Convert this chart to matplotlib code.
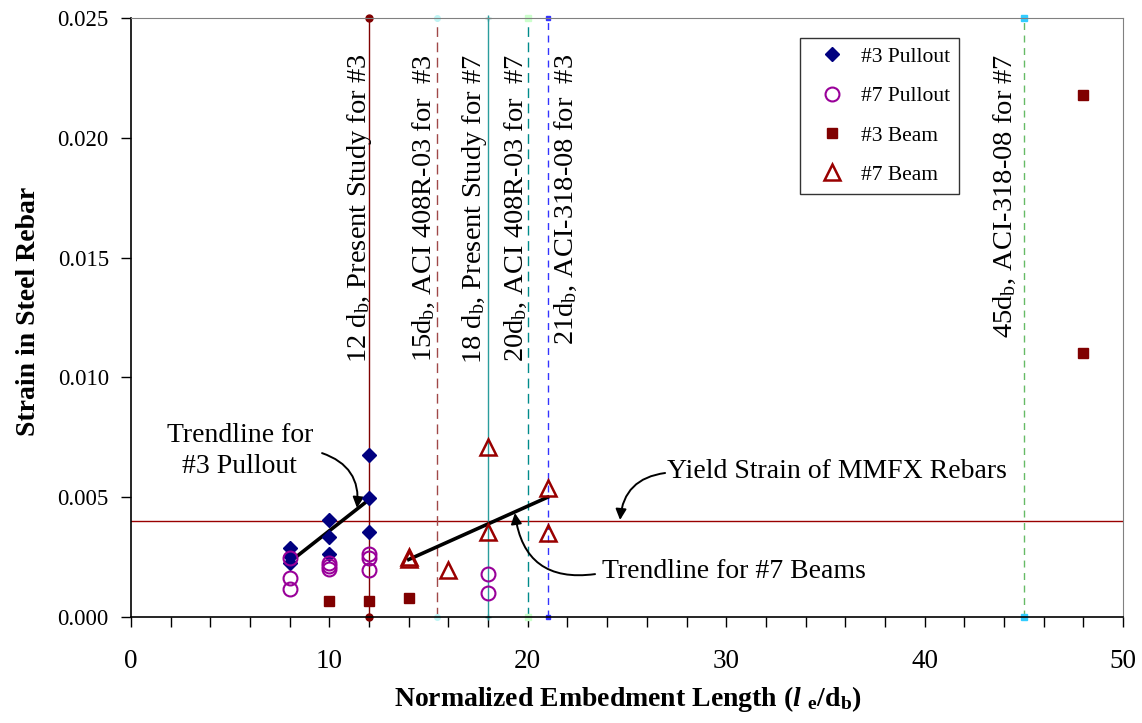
import matplotlib
matplotlib.use("Agg")
import matplotlib.pyplot as plt
from matplotlib.ticker import MultipleLocator, FormatStrFormatter

plt.rcParams['font.family'] = ['Liberation Serif', 'DejaVu Serif']
plt.rcParams['mathtext.fontset'] = 'custom'
plt.rcParams['mathtext.rm'] = 'Liberation Serif'
plt.rcParams['mathtext.it'] = 'Liberation Serif:italic'
plt.rcParams['mathtext.bf'] = 'Liberation Serif:bold'
plt.rcParams['mathtext.bfit'] = 'Liberation Serif:italic:bold'

# -----------------------------
# Data
# -----------------------------
p3_x = [8, 8, 8, 10, 10, 10, 12, 12, 12]
p3_y = [0.00288, 0.00255, 0.00225, 0.00405, 0.00334, 0.00263, 0.00676, 0.00497, 0.00355]

p7_x = [8, 8, 8, 10, 10, 10, 12, 12, 12, 18, 18]
p7_y = [0.00246, 0.00163, 0.00117, 0.00225, 0.00212, 0.00200, 0.00263, 0.00246, 0.00196, 0.00179, 0.00100]

b3_x = [10, 12, 14, 48, 48]
b3_y = [0.00068, 0.00066, 0.00080, 0.02180, 0.01100]

b7_x = [14, 14, 16, 18, 18, 21, 21]
b7_y = [0.00250, 0.00240, 0.00196, 0.00710, 0.00355, 0.00540, 0.00350]

trend3_x = [8, 12]
trend3_y = [0.0023, 0.0049]
trend7_x = [14, 21]
trend7_y = [0.0024, 0.0050]

yield_strain = 0.004

dev_x = [12, 15.4, 18, 20, 21, 45]
dev_labels = [
    r"12 d$_\mathregular{b}$, Present Study for #3",
    r"15d$_\mathregular{b}$, ACI 408R-03 for  #3",
    r"18 d$_\mathregular{b}$, Present Study for #7",
    r"20d$_\mathregular{b}$, ACI 408R-03 for  #7",
    r"21d$_\mathregular{b}$, ACI-318-08 for  #3",
    r"45d$_\mathregular{b}$, ACI-318-08 for #7",
]
dev_label_x = [11.5, 14.77, 17.3, 19.4, 21.9, 44.05]

# line styles for the development length lines
dev_styles = [
    dict(color='#800000', ls='-', marker='o', ms=5, mfc='#800000', mec='#800000'),
    dict(color='#A04848', ls=(0, (7, 4)), marker='o', ms=4, mfc='#bff5f5', mec='#bff5f5'),
    dict(color='#2A9D9D', ls='-', marker='+', ms=5, mfc='#2A9D9D', mec='#2A9D9D'),
    dict(color='#008B8B', ls=(0, (7, 4)), marker='s', ms=5, mfc='#ccffcc', mec='#ccffcc'),
    dict(color='#3333ff', ls=(0, (5, 4)), marker='s', ms=3, mfc='#3333ff', mec='#3333ff'),
    dict(color='#66bb66', ls=(0, (5, 4)), marker='s', ms=4, mfc='#33ccff', mec='#33ccff'),
]

# -----------------------------
# Figure
# -----------------------------
fig = plt.figure(figsize=(11.42, 7.23), dpi=100)
ax = fig.add_axes([131 / 1142, 1 - 617 / 723, 992 / 1142, 599 / 723])

ax.axhline(yield_strain, color='#990000', lw=1, zorder=1)

for x, st in zip(dev_x, dev_styles):
    ax.plot([x, x], [0, 0.025], lw=1, clip_on=False, zorder=2, **st)

for x, lab in zip(dev_label_x, dev_labels):
    ax.text(x, 0.0235, lab, rotation=90, ha='center', va='top', fontsize=20.5)

ax.plot(trend3_x, trend3_y, color='black', lw=2.6, zorder=3)
ax.plot(trend7_x, trend7_y, color='black', lw=2.6, zorder=3)

ax.plot(p3_x, p3_y, ls='none', marker='D', ms=7, color='#000080', label='#3 Pullout', zorder=4)
ax.plot(p7_x, p7_y, ls='none', marker='o', ms=10, mfc='none', mec='#990099', mew=1.5,
        label='#7 Pullout', zorder=4)
ax.plot(b3_x, b3_y, ls='none', marker='s', ms=7, color='#800000', label='#3 Beam', zorder=4)
ax.plot(b7_x, b7_y, ls='none', marker='^', ms=11, mfc='none', mec='#990000', mew=1.8,
        label='#7 Beam', zorder=4)

# annotations
arrow = dict(arrowstyle='-|>', color='black', lw=1.4, mutation_scale=16, shrinkA=0, shrinkB=0)
ax.text(5.49, 0.00693, "Trendline for\n#3 Pullout", ha='center', va='center', fontsize=20,
        linespacing=1.35)
ax.annotate('', xy=(11.39, 0.00455), xytext=(9.63, 0.00684),
            arrowprops=dict(connectionstyle='arc3,rad=-0.4', **arrow))

ax.text(27.02, 0.00609, "Yield Strain of MMFX Rebars", ha='left', va='center', fontsize=20)
ax.annotate('', xy=(24.65, 0.00405), xytext=(26.92, 0.00601),
            arrowprops=dict(connectionstyle='arc3,rad=0.4', **arrow))

ax.text(23.74, 0.00188, "Trendline for #7 Beams", ha='left', va='center', fontsize=20)
ax.annotate('', xy=(19.35, 0.00434), xytext=(23.39, 0.00179),
            arrowprops=dict(connectionstyle='arc3,rad=-0.5', **arrow))

# axes
ax.set_xlim(0, 50)
ax.set_ylim(0, 0.025)
ax.xaxis.set_major_locator(MultipleLocator(10))
ax.xaxis.set_minor_locator(MultipleLocator(2))
ax.yaxis.set_major_locator(MultipleLocator(0.005))
ax.yaxis.set_major_formatter(FormatStrFormatter('%.3f'))
ax.tick_params(axis='x', which='both', direction='out', length=7, width=1, pad=16, labelsize=19.5)
ax.tick_params(axis='y', which='both', direction='out', length=7, width=1, pad=9, labelsize=16.5)
ax.tick_params(top=False, right=False)

ax.spines['top'].set_color('#808080')
ax.spines['right'].set_color('#808080')
ax.spines['left'].set_linewidth(1.2)
ax.spines['bottom'].set_linewidth(1.2)

ax.set_xlabel(r"Normalized Embedment Length ($\mathbfit{l}$ $_\mathregular{e}$/d$_\mathregular{b}$)",
              fontsize=20, fontweight='bold')
ax.set_ylabel("Strain in Steel Rebar", fontsize=20, fontweight='bold')
ax.xaxis.set_label_coords(0.501, -0.112)
ax.yaxis.set_label_coords(-0.091, 0.51)

leg = ax.legend(loc='upper left', bbox_to_anchor=(0.6744, 0.9666), borderaxespad=0,
                fontsize=15.5, frameon=True, fancybox=False, borderpad=0.4,
                handlelength=2.2, handletextpad=0.25, labelspacing=0.9)
leg.get_frame().set_edgecolor('black')
leg.get_frame().set_linewidth(1)

fig.savefig("out.png", dpi=100)
